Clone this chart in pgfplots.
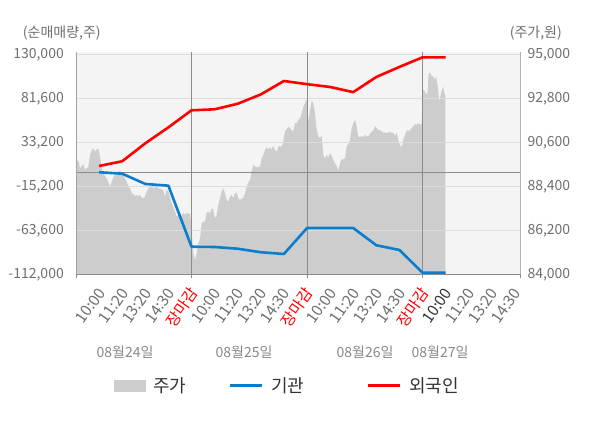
\documentclass[border=0pt]{standalone}
\usepackage{fontspec}
\setmainfont{Noto Sans CJK KR}
\usepackage{pgfplots}
\pgfplotsset{compat=1.18}
\definecolor{bgc}{HTML}{F4F4F4}
\definecolor{gridc}{HTML}{DDDDDD}
\definecolor{areac}{HTML}{CDCDCD}
\definecolor{sepc}{HTML}{8C8C8C}
\definecolor{tickc}{HTML}{6E6E6E}
\definecolor{datec}{HTML}{888888}
\definecolor{legc}{HTML}{333333}
\definecolor{bluec}{HTML}{0A7ECC}
\definecolor{redc}{HTML}{FF0000}
\definecolor{nowc}{HTML}{333333}
\pgfplotstableread{
x y
0 89810
0.056 89730
0.130 89590
0.173 89310
0.260 89430
0.316 89530
0.390 89230
0.463 89310
0.532 89360
0.606 89980
0.693 90230
0.749 90310
0.823 90140
0.896 90260
0.965 90310
1.039 89890
1.113 89310
1.182 89060
1.299 88860
1.398 88640
1.472 88390
1.545 88640
1.615 88860
1.688 88980
1.762 89060
1.831 89140
1.905 89190
1.978 89060
2.048 88930
2.121 88810
2.195 88640
2.264 88390
2.338 88310
2.411 88060
2.481 88020
2.554 87920
2.628 87970
2.697 87920
2.771 87970
2.844 87860
2.913 87810
2.987 87890
3.061 88140
3.130 88310
3.203 88360
3.277 88390
3.346 88310
3.420 88360
3.494 88390
3.563 88310
3.636 88290
3.710 88260
3.779 88190
3.853 87890
3.926 88260
3.996 88140
4.069 87890
4.143 87560
4.212 87360
4.286 87140
4.359 86890
4.429 86970
4.502 87060
4.576 86920
4.645 87090
4.719 86970
4.792 87090
4.861 87020
4.935 87060
5.009 86220
5.078 85050
5.152 84720
5.225 85050
5.294 85550
5.368 85800
5.442 86560
5.511 86640
5.584 86640
5.658 87090
5.727 87140
5.801 87060
5.874 87310
5.944 87220
6.017 86810
6.091 86970
6.160 87470
6.234 87810
6.307 88140
6.377 88310
6.450 88060
6.524 87720
6.593 87640
6.667 87890
6.740 87970
6.810 87810
6.883 88060
6.957 88090
7.026 87810
7.100 87720
7.173 87810
7.242 87810
7.316 88060
7.390 88390
7.459 88590
7.532 88730
7.606 89140
7.675 89480
7.749 89390
7.822 89360
7.892 89390
7.965 89390
8.039 89810
8.108 89980
8.182 90230
8.255 90360
8.325 90260
8.398 90360
8.472 90260
8.541 90430
8.615 90230
8.688 90140
8.758 90390
8.831 90430
8.905 90390
8.974 90640
9.048 91150
9.121 91270
9.190 91400
9.264 91320
9.338 91230
9.407 91150
9.481 91570
9.554 91570
9.623 91730
9.697 91820
9.771 92070
9.840 92400
9.913 92570
9.987 92770
10.056 91650
10.130 92230
10.203 92700
10.273 92570
10.346 92070
10.420 91230
10.489 90900
10.563 90820
10.636 90930
10.706 89980
10.779 89810
10.853 89980
10.922 89860
10.996 90090
11.069 89930
11.139 89730
11.212 89560
11.286 89430
11.355 89190
11.429 89560
11.502 89760
11.571 89760
11.645 89810
11.719 90430
11.788 90530
11.861 90730
11.935 91320
12.004 91570
12.078 91730
12.152 91400
12.221 90900
12.294 90870
12.368 90930
12.437 90870
12.511 90980
12.584 90900
12.654 90930
12.727 91030
12.801 91150
12.870 91200
12.944 91430
13.017 91320
13.087 91230
13.160 91230
13.234 91150
13.303 91100
13.377 91100
13.450 91070
13.519 91100
13.593 91150
13.667 91070
13.736 91100
13.810 90930
13.883 91100
13.952 90730
14.026 90480
14.100 90360
14.169 90730
14.242 90980
14.316 91200
14.385 91200
14.459 91200
14.532 91320
14.602 91430
14.675 91530
14.749 91480
14.818 91570
14.892 91480
14.965 91530
15.009 93240
15.065 93240
15.139 93070
15.208 92990
15.268 94070
15.325 94100
15.398 93940
15.468 93900
15.541 93740
15.584 93900
15.641 93570
15.684 93150
15.727 92650
15.788 92990
15.844 93240
15.900 93400
15.944 93070
15.987 92990
}\pricetable
\pgfplotstableread{
x y
1 500
2 -1100
3 -12400
4 -14300
5 -81600
6 -81900
7 -83800
8 -87700
9 -89600
10 -61000
11 -61000
12 -61000
13 -80000
14 -85200
15 -110200
16 -110200
}\insttable
\pgfplotstableread{
x y
1 7400
2 12600
3 32400
4 50000
5 68800
6 69900
7 76000
8 86300
9 101100
10 97600
11 94500
12 88800
13 105500
14 116600
15 127200
16 127200
}\foreigntable
\begin{document}
\begin{tikzpicture}
\path[use as bounding box] (0bp,0bp) rectangle (600bp,428bp);
% price axis (right)
\begin{axis}[
  at={(76bp,153.7bp)}, anchor=south west,
  scale only axis, width=444bp, height=222.6bp,
  xmin=0, xmax=19.22, ymin=84000, ymax=95154,
  scaled x ticks=false, scaled y ticks=false,
  axis background/.style={fill=bgc},
  axis line style={draw=none},
  major tick length=0pt,
  axis on top,
  ymajorgrids, grid style={draw=gridc, line width=1bp},
  yticklabel pos=right,
  ytick={84000,86200,88400,90600,92800,95000},
  yticklabels={{84,000},{86,200},{88,400},{90,600},{92,800},{95,000}},
  yticklabel style={anchor=west, inner sep=0pt, xshift=7.3bp, font=\fontsize{14bp}{16bp}\selectfont, text=tickc},
  xtick={1,...,19},
  xticklabels={{10:00},{11:20},{13:20},{14:30},{\textcolor{redc}{장마감}},
               {10:00},{11:20},{13:20},{14:30},{\textcolor{redc}{장마감}},
               {10:00},{11:20},{13:20},{14:30},{\textcolor{redc}{장마감}},
               {\textcolor{nowc}{10:00}},{11:20},{13:20},{14:30}},
  xticklabel style={xshift=2.5bp, yshift=-15.5bp, rotate=55, anchor=east, inner sep=0pt, font=\fontsize{15.5bp}{17bp}\selectfont, text=tickc},
  clip=true,
]
\addplot[fill=areac, draw=none] table {\pricetable} \closedcycle;
\end{axis}
% volume axis (left)
\begin{axis}[
  at={(76bp,153.7bp)}, anchor=south west,
  scale only axis, width=444bp, height=222.6bp,
  xmin=0, xmax=19.22, ymin=-112000, ymax=133400,
  scaled x ticks=false, scaled y ticks=false,
  axis line style={draw=none},
  major tick length=0pt,
  xtick=\empty,
  ytick={-112000,-63600,-15200,33200,81600,130000},
  yticklabels={{-112,000},{-63,600},{-15,200},{33,200},{81,600},{130,000}},
  yticklabel style={anchor=east, inner sep=0pt, xshift=-12bp, font=\fontsize{14bp}{16bp}\selectfont, text=tickc},
  clip=false,
]
\draw[sepc, line width=1bp] (axis cs:0,0) -- (axis cs:19.22,0);
\draw[sepc, line width=1bp] (axis cs:5,-112000) -- (axis cs:5,133400);
\draw[sepc, line width=1bp] (axis cs:10,-112000) -- (axis cs:10,133400);
\draw[sepc, line width=1bp] (axis cs:15,-112000) -- (axis cs:15,133400);
\draw[sepc!80, line width=1bp] (axis cs:0,-112000) -- (axis cs:0,133400);
\draw[gridc!80!black, line width=1bp] (axis cs:19.22,-112000) -- (axis cs:19.22,133400);
\draw[sepc, line width=1bp] (axis cs:0,-112000) -- (axis cs:19.22,-112000);
\draw[sepc, line width=1bp] (axis cs:0,-112000) -- ++(0bp,-4bp);
\draw[sepc, line width=1bp] (axis cs:5,-112000) -- ++(0bp,-4bp);
\draw[sepc, line width=1bp] (axis cs:10,-112000) -- ++(0bp,-4bp);
\draw[sepc, line width=1bp] (axis cs:15,-112000) -- ++(0bp,-4bp);
\draw[sepc, line width=1bp] (axis cs:19.22,-112000) -- ++(0bp,-4bp);
\addplot[bluec, line width=2.6bp, line join=round] table {\insttable};
\addplot[redc, line width=2.6bp, line join=round] table {\foreigntable};
\end{axis}
% axis titles
\node[anchor=west, inner sep=0pt, text=tickc, font=\fontsize{14bp}{16bp}\selectfont] at (22.7bp,395bp) {(순매매량,주)};
\node[anchor=east, inner sep=0pt, text=tickc, font=\fontsize{14bp}{16bp}\selectfont] at (562bp,395bp) {(주가,원)};
% date labels
\node[inner sep=0pt, text=datec, font=\fontsize{14bp}{16bp}\selectfont] at (125bp,76.3bp) {08월24일};
\node[inner sep=0pt, text=datec, font=\fontsize{14bp}{16bp}\selectfont] at (244bp,76.3bp) {08월25일};
\node[inner sep=0pt, text=datec, font=\fontsize{14bp}{16bp}\selectfont] at (365bp,76.3bp) {08월26일};
\node[inner sep=0pt, text=datec, font=\fontsize{14bp}{16bp}\selectfont] at (440bp,76.3bp) {08월27일};
% legend
\fill[areac] (114bp,36bp) rectangle (146bp,48bp);
\node[anchor=west, inner sep=0pt, text=legc, font=\fontsize{18bp}{20bp}\selectfont] at (153bp,42.3bp) {주가};
\draw[bluec, line width=3bp] (230bp,42.3bp) -- (262bp,42.3bp);
\node[anchor=west, inner sep=0pt, text=legc, font=\fontsize{18bp}{20bp}\selectfont] at (271bp,42.3bp) {기관};
\draw[redc, line width=3bp] (368bp,42.3bp) -- (400bp,42.3bp);
\node[anchor=west, inner sep=0pt, text=legc, font=\fontsize{18bp}{20bp}\selectfont] at (409bp,42.3bp) {외국인};
\end{tikzpicture}
\end{document}
